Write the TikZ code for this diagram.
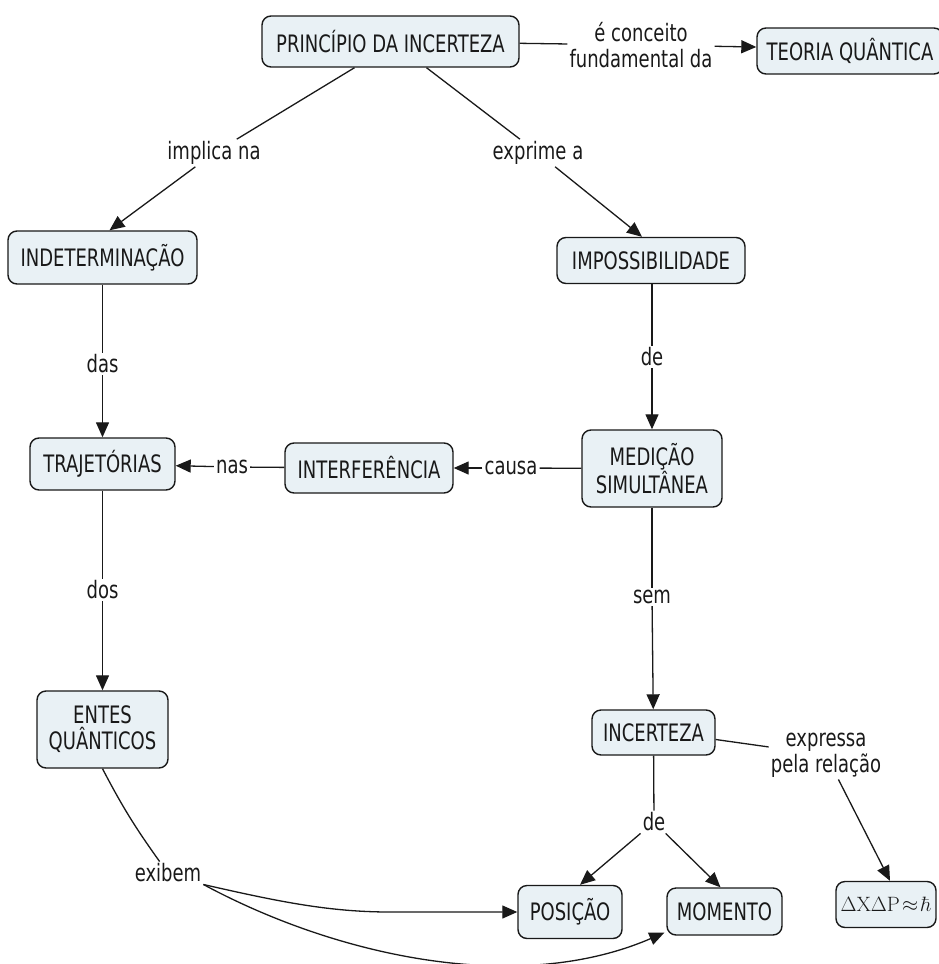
\documentclass[tikz,border=0pt]{standalone}
\usepackage[no-math]{fontspec}
\setmainfont{DejaVu Sans}[FakeStretch=0.75]
\usetikzlibrary{arrows.meta}
\definecolor{boxfill}{RGB}{233,241,245}
\definecolor{ink}{RGB}{25,25,25}
\begin{document}
\begin{tikzpicture}[x=1pt,y=-1pt,
  concept/.style={draw=ink, line width=1.4pt, fill=boxfill, rounded corners=9pt,
    align=center, text=ink, font=\fontsize{24}{26}\selectfont, inner sep=0pt},
  lbl/.style={inner sep=2pt, align=center, text=ink, font=\fontsize{24}{26}\selectfont},
  link/.style={draw=ink, line width=1.3pt},
  arr/.style={link, -{Triangle[length=15pt,width=13pt]}}
]
\clip (0,0) rectangle (939,964);
% concepts
\node[concept, minimum width=257pt, minimum height=51pt] (prin) at (390.5,41.5) {PRINCÍPIO DA INCERTEZA};
\node[concept, minimum width=186pt, minimum height=46pt] (teoria) at (850,51) {TEORIA QUÂNTICA};
\node[concept, minimum width=189pt, minimum height=53pt] (indet) at (102.5,257.5) {INDETERMINAÇÃO};
\node[concept, minimum width=188pt, minimum height=46pt] (imposs) at (651,260.5) {IMPOSSIBILIDADE};
\node[concept, minimum width=145pt, minimum height=52pt] (traj) at (102.5,464) {TRAJETÓRIAS};
\node[concept, minimum width=168pt, minimum height=50pt] (interf) at (369,468) {INTERFERÊNCIA};
\node[concept, minimum width=140pt, minimum height=77pt] (med) at (652,468.5) {MEDIÇÃO\\SIMULTÂNEA};
\node[concept, minimum width=131pt, minimum height=77pt] (entes) at (102.5,729.5) {ENTES\\QUÂNTICOS};
\node[concept, minimum width=123pt, minimum height=45pt] (incert) at (653.5,732.5) {INCERTEZA};
\node[concept, minimum width=104pt, minimum height=53pt] (pos) at (570,912) {POSIÇÃO};
\node[concept, minimum width=115pt, minimum height=47pt] (mom) at (724.5,911.5) {MOMENTO};
\node[concept, minimum width=100pt, minimum height=46pt, font=\fontsize{19.5}{21}\selectfont] (form) at (886,904.5) {$\Delta\mathrm{X}\Delta\mathrm{P}\!\approx\!\hbar$};
% linking phrases
\node[lbl] (conc) at (641,45) {é conceito\\fundamental da};
\node[lbl] (impl) at (214,153) {implica na};
\node[lbl] (expr1) at (538,153) {exprime a};
\node[lbl] (das) at (102.5,364) {das};
\node[lbl] (de1) at (652,357) {de};
\node[lbl] (nas) at (232,467) {nas};
\node[lbl] (causa) at (511,468) {causa};
\node[lbl] (dos) at (102.5,590) {dos};
\node[lbl] (sem) at (652,597) {sem};
\node[lbl] (rel) at (826,755) {expressa\\pela relação};
\node[lbl] (de2) at (654,822) {de};
\node[lbl] (exibem) at (168,873) {exibem};
% connectors
\draw[link] (prin) -- (conc);
\draw[arr] (conc) -- ([yshift=4pt]teoria.west);
\draw[link] ([xshift=-36pt]prin.south) -- (impl);
\draw[arr] (impl) -- ([xshift=7pt]indet.north);
\draw[link] ([xshift=36pt]prin.south) -- (expr1);
\draw[arr] (expr1) -- ([xshift=-9pt]imposs.north);
\draw[link] (imposs.south -| de1) -- (de1);
\draw[arr] (de1) -- (med);
\draw[link] (indet) -- (das);
\draw[arr] (das) -- (traj);
\draw[link] (med) -- (causa);
\draw[arr] (causa) -- (interf);
\draw[link] (interf) -- (nas);
\draw[arr] (nas) -- (traj);
\draw[link] (traj) -- (dos);
\draw[arr] (dos) -- (entes);
\draw[link] (med) -- (sem);
\draw[arr] (sem) -- (incert);
\draw[link] ([yshift=-7pt]incert.east) -- (rel);
\draw[arr] (rel) -- ([xshift=4pt]form.north);
\draw[link] (incert) -- (de2);
\draw[arr] (de2) -- ([xshift=10pt]pos.north);
\draw[arr] (de2) -- ([xshift=-4pt]mom.north);
\draw[link] (entes.south) to[bend right=4] (exibem);
\draw[arr] (exibem.south east) .. controls (280,902) and (330,912) .. (390,912) -- (pos.west);
\draw[arr] (exibem.south east) .. controls (340,958) and (520,995) .. ([xshift=-2pt,yshift=3pt]mom.south west);
\end{tikzpicture}
\end{document}
